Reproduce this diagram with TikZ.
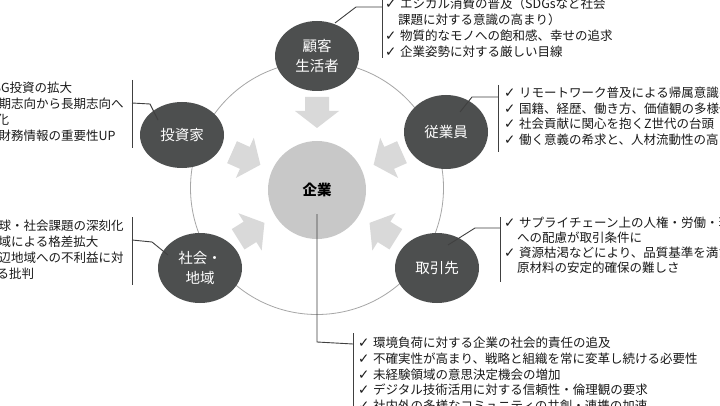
\documentclass[tikz,border=0pt]{standalone}
\usepackage{fontspec}
\setmainfont{Noto Sans CJK JP}
\newfontfamily\dejavu{DejaVu Sans}
\usetikzlibrary{shapes.geometric}
\definecolor{darknode}{HTML}{4D4F4F}
\definecolor{corefill}{HTML}{C8C8C8}
\definecolor{arrowfill}{HTML}{D9D9D9}
\definecolor{ringline}{HTML}{A6A6A6}
\definecolor{leadline}{HTML}{404040}
\definecolor{txt}{HTML}{1A1A1A}
\newcommand\ck{\makebox[15pt][l]{\dejavu\fontsize{13.5}{13.5}\selectfont ✓}}
\newcommand\ind{\hspace*{13pt}}
\begin{document}
\begin{tikzpicture}[x=1pt,y=1pt,
  party/.style={ellipse, fill=darknode, minimum width=84pt, minimum height=70pt, inner sep=0pt, text=white, font=\fontsize{14.5}{20}\selectfont, align=center},
  core/.style={circle, fill=corefill, minimum size=98pt, inner sep=0pt, font=\bfseries\fontsize{14.5}{16}\selectfont, text=black},
  ring/.style={draw=ringline, line width=0.8pt},
  lead/.style={draw=leadline, line width=0.9pt},
  bar/.style={draw=leadline, line width=1pt},
  note/.style={anchor=north west, inner sep=0pt, align=left, text=txt, font=\fontsize{12.5}{16}\selectfont},
  inarrow/.style={fill=arrowfill}
]
\useasboundingbox (0,0) rectangle (720,405);
\clip (0,0) rectangle (720,405);
\fill[white] (0,0) rectangle (720,405);
\draw[ring] (317,217) circle (126.5);
\foreach \a in {90,156,24,212,328}
  \fill[inarrow, shift={(317,215)}, rotate=\a] (93,12) -- (79,12) -- (79,22) -- (62,0) -- (79,-22) -- (79,-12) -- (93,-12) -- cycle;
\node[core] (kigyo) at (317,215) {企業};
\node[party] (kokyaku) at (317,349) {顧客\\生活者};
\node[party, minimum height=66pt] (toshika) at (182,270) {投資家};
\node[party, minimum height=74pt] (jugyoin) at (446,273) {従業員};
\node[party] (shakai) at (200,137) {社会・\\地域};
\node[party] (torihiki) at (437,137) {取引先};
% lead lines
\coordinate (kA) at (335,382); \coordinate (kB) at (356,398); \coordinate (kC) at (382,398);
\draw[lead] (kA) -- (kB) -- (kC);
\coordinate (kT) at (382,410); \coordinate (kU) at (382,347);
\draw[bar] (kT) -- (kU);
\coordinate (tA) at (158,285); \coordinate (tB) at (150,301); \coordinate (tC) at (132,302);
\draw[lead] (tA) -- (tB) -- (tC);
\coordinate (tT) at (132,325); \coordinate (tU) at (132,257);
\draw[bar] (tT) -- (tU);
\coordinate (jA) at (460,293); \coordinate (jB) at (472,308); \coordinate (jC) at (498,308);
\draw[lead] (jA) -- (jB) -- (jC);
\coordinate (jT) at (498,320); \coordinate (jU) at (498,253);
\draw[bar] (jT) -- (jU);
\coordinate (sA) at (168,150); \coordinate (sB) at (152,163); \coordinate (sC) at (132,165);
\draw[lead] (sA) -- (sB) -- (sC);
\coordinate (sT) at (132,188); \coordinate (sU) at (132,120);
\draw[bar] (sT) -- (sU);
\coordinate (rA) at (448,160); \coordinate (rB) at (475,177); \coordinate (rC) at (500,177);
\draw[lead] (rA) -- (rB) -- (rC);
\coordinate (rT) at (500,188); \coordinate (rU) at (500,123);
\draw[bar] (rT) -- (rU);
\coordinate (gA) at (317,191); \coordinate (gB) at (317,63); \coordinate (gC) at (353,61);
\draw[lead] (gA) -- (gB) -- (gC);
\coordinate (gT) at (353,72); \coordinate (gU) at (353,-5);
\draw[bar] (gT) -- (gU);
% notes
\node[note] (kokyakutxt) at (385,407) {\ck エシカル消費の普及（SDGsなど社会\\\ind 課題に対する意識の高まり）\\\ck 物質的なモノへの飽和感、幸せの追求\\\ck 企業姿勢に対する厳しい目線};
\node[note] (toshikatxt) at (-29,323) {\ck ESG投資の拡大\\\ck 短期志向から長期志向へ\\\ind 変化\\\ck 非財務情報の重要性UP};
\node[note, font=\fontsize{12.5}{15.5}\selectfont] (jugyointxt) at (504,318) {\ck リモートワーク普及による帰属意識の希薄化\\\ck 国籍、経歴、働き方、価値観の多様化\\\ck 社会貢献に関心を抱くZ世代の台頭\\\ck 働く意義の希求と、人材流動性の高まり};
\node[note] (shakaitxt) at (-29,185) {\ck 地球・社会課題の深刻化\\\ck 地域による格差拡大\\\ck 周辺地域への不利益に対\\\ind する批判};
\node[note, font=\fontsize{12.5}{15}\selectfont] (torihikitxt) at (504,188) {\ck サプライチェーン上の人権・労働・環境等\\\ind への配慮が取引条件に\\\ck 資源枯渇などにより、品質基準を満たす\\\ind 原材料の安定的確保の難しさ};
\node[note, font=\fontsize{12.5}{15.7}\selectfont] (kigyotxt) at (358,68) {\ck 環境負荷に対する企業の社会的責任の追及\\\ck 不確実性が高まり、戦略と組織を常に変革し続ける必要性\\\ck 未経験領域の意思決定機会の増加\\\ck デジタル技術活用に対する信頼性・倫理観の要求\\\ck 社内外の多様なコミュニティの共創・連携の加速};
\end{tikzpicture}
\end{document}
